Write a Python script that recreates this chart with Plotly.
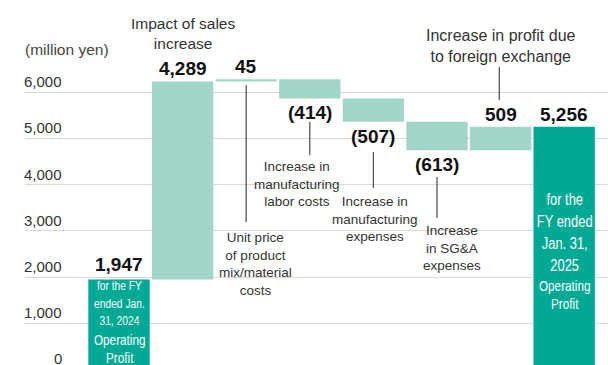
import plotly.graph_objects as go

# Operating profit bridge, FY ended Jan. 31, 2024 -> FY ended Jan. 31, 2025 (million yen)
categories = [
    "FY2024 operating profit",
    "Impact of sales increase",
    "Unit price of product mix/material costs",
    "Increase in manufacturing labor costs",
    "Increase in manufacturing expenses",
    "Increase in SG&A expenses",
    "Increase in profit due to foreign exchange",
    "FY2025 operating profit",
]
values = [1947, 4289, 45, -414, -507, -613, 509, 5256]
measures = ["absolute", "relative", "relative", "relative", "relative", "relative", "relative", "total"]
y_ticks = [0, 1000, 2000, 3000, 4000, 5000, 6000]

DARK = "#00a994"
LIGHT = "#a3d6cb"
GRID = "#d9d9d9"
TEXT = "#333333"
FONT = "Liberation Sans, Arial, sans-serif"
Y_RANGE = [97, 7998]

xs = list(range(len(categories)))

fig = go.Figure(go.Waterfall(
    x=xs,
    y=values,
    measure=measures,
    width=0.965,
    increasing=dict(marker=dict(color=LIGHT, line=dict(width=0))),
    decreasing=dict(marker=dict(color=LIGHT, line=dict(width=0))),
    totals=dict(marker=dict(color=DARK, line=dict(width=0))),
    connector=dict(visible=False),
    textinfo="none",
    hoverinfo="x+y",
))

annotations = []

# value labels above rising bars, below falling bars
running = 0
for i, (v, m) in enumerate(zip(values, measures)):
    if m == "absolute":
        start, end = 0, v
        running = v
    elif m == "total":
        start, end = 0, running
        v = running
    else:
        start, end = running, running + v
        running = end
    if v >= 0:
        annotations.append(dict(x=i, y=max(start, end), text=f"<b>{v:,}</b>",
                                yanchor="bottom", yshift=3 if i == 0 else 0,
                                font=dict(size=19, color="#111111", family=FONT)))
    else:
        annotations.append(dict(x=i, y=min(start, end), text=f"<b>({-v:,})</b>",
                                yanchor="top", yshift=-2,
                                font=dict(size=19, color="#111111", family=FONT)))

# y-axis labels, right-aligned above each gridline (paper coords so "0" still shows)
for t in y_ticks:
    py = (t - Y_RANGE[0]) / (Y_RANGE[1] - Y_RANGE[0])
    annotations.append(dict(xref="paper", yref="paper", x=0, xanchor="right", xshift=39,
                            y=py, yanchor="bottom", text=f"{t:,}",
                            font=dict(size=15, color=TEXT, family=FONT)))
annotations.append(dict(xref="paper", x=0, xanchor="left", xshift=-2,
                        y=6937, text="(million yen)",
                        font=dict(size=15.5, color="#444444", family=FONT)))

# item descriptions
notes = [
    (1.0, 7280, "Impact of sales<br>increase", 15.5),
    (2.14, 2284, "Unit price<br>of product<br>mix/material<br>costs", 13.5),
    (2.8, 4015, "Increase in<br>manufacturing<br>labor costs", 13.5),
    (4.03, 3258, "Increase in<br>manufacturing<br>expenses", 13.5),
    (5.24, 2630, "Increase<br>in SG&A<br>expenses", 13.5),
    (6.01, 7002, "Increase in profit due<br>to foreign exchange", 16),
]
for x, y, txt, size in notes:
    annotations.append(dict(x=x, y=y, text=txt, align="center",
                            font=dict(size=size, color=TEXT, family=FONT)))

# leader lines from descriptions to bars
leaders = [
    (2, 6158, 3193),
    (3, 5357, 4643),
    (4, 4708, 3929),
    (5, 4167, 3279),
    (5.98, 6548, 5833),
]
shapes = [dict(type="line", x0=x, x1=x, y0=y0, y1=y1,
               line=dict(color="#555555", width=1.3)) for x, y0, y1 in leaders]

# condensed labels inside the two operating-profit bars (name holds the horizontal squeeze)
annotations += [
    dict(x=0, y=1439, text="for the FY<br>ended Jan.<br>31, 2024", name="0.76",
         font=dict(size=13.5, color="white", family=FONT)),
    dict(x=0, y=444, text="Operating<br>Profit", name="0.84",
         font=dict(size=14, color="white", family=FONT)),
    dict(x=7, y=2976, text="for the<br>FY ended<br>Jan. 31,<br>2025", name="0.76",
         font=dict(size=17, color="white", family=FONT)),
    dict(x=7, y=1613, text="Operating<br>Profit", name="0.84",
         font=dict(size=14, color="white", family=FONT)),
]

for a in annotations:
    a.setdefault("xref", "x")
    a.setdefault("yref", "y")
    a["showarrow"] = False

fig.update_layout(
    width=608,
    height=365,
    margin=dict(l=25, r=0, t=0, b=0),
    paper_bgcolor="white",
    plot_bgcolor="white",
    showlegend=False,
    xaxis=dict(range=[-1.478, 7.689], visible=False, fixedrange=True),
    yaxis=dict(range=Y_RANGE, tickvals=y_ticks, showticklabels=False,
               showgrid=True, gridcolor=GRID, gridwidth=1, zeroline=False,
               showline=False, ticks="", fixedrange=True),
    annotations=annotations,
    shapes=shapes,
    font=dict(family=FONT, color=TEXT),
)

# narrow the in-bar labels horizontally
squeeze_js = """
var gd = document.getElementById('{plot_id}');
function squeeze() {
  var anns = gd._fullLayout.annotations;
  gd.querySelectorAll('.annotation').forEach(function (g) {
    var a = anns[+g.getAttribute('data-index')];
    var f = a && parseFloat(a.name);
    if (!f) return;
    var t = g.querySelector('text');
    t.style.transformBox = 'fill-box';
    t.style.transformOrigin = 'center';
    t.style.transform = 'scaleX(' + f + ')';
  });
}
squeeze();
gd.on('plotly_afterplot', squeeze);
"""

fig.write_html("out.html", post_script=squeeze_js)
